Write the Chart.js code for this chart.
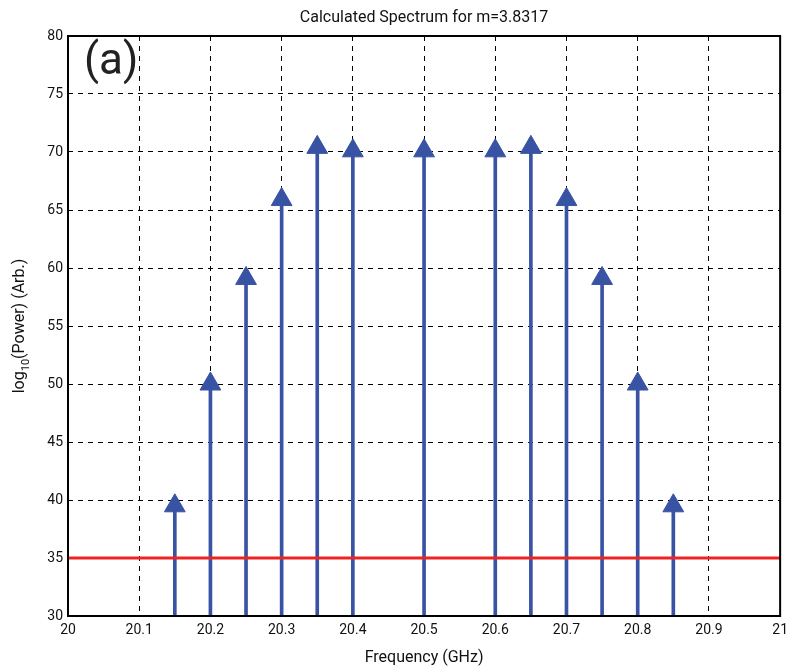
<!DOCTYPE html>
<html lang="en">
<head>
    <meta charset="UTF-8">
    <title>Calculated Spectrum</title>
    <script src="https://cdn.jsdelivr.net/npm/chart.js"></script>
    <style>
        html, body { margin: 0; padding: 0; background: #fff; overflow: hidden; }
        /* slightly wider than the window so the last x label runs off the edge */
        #wrap { width: 794px; height: 672px; position: relative; }
        canvas { display: block; }
    </style>
</head>
<body>
    <div id="wrap"><canvas id="myChart"></canvas></div>
    <script>
        // spectral lines (GHz) and their log power
        const freqs = [20.15, 20.2, 20.25, 20.3, 20.35, 20.4, 20.5, 20.6, 20.65, 20.7, 20.75, 20.8, 20.85];
        const power = [39.5, 50, 59.1, 65.9, 70.4, 70.1, 70.1, 70.1, 70.4, 65.9, 59.1, 50, 39.5];
        // noise floor drawn across the full band
        const floorFreqs = [20, 21];
        const floorLevel = [35, 35];
        const xTicks = [20, 20.1, 20.2, 20.3, 20.4, 20.5, 20.6, 20.7, 20.8, 20.9, 21];
        const yTicks = [30, 35, 40, 45, 50, 55, 60, 65, 70, 75, 80];

        const FONT = 'Roboto, "Noto Sans", sans-serif';
        const BLUE = '#3953a4';
        const RED = '#ee2424';

        const stems = freqs.map((f, i) => ({x: f, y: power[i]}));
        const floorLine = floorFreqs.map((f, i) => ({x: f, y: floorLevel[i]}));

        // box round the plot, title, y label with subscript, panel letter
        const frame = {
            id: 'frame',
            afterDatasetsDraw(chart) {
                const {ctx, chartArea: a} = chart;
                const midX = (a.left + a.right) / 2;
                const midY = (a.top + a.bottom) / 2;
                ctx.save();
                ctx.strokeStyle = '#000';
                ctx.lineWidth = 2;
                ctx.strokeRect(a.left, a.top, a.right - a.left, a.bottom - a.top);

                ctx.fillStyle = '#222';
                ctx.font = '44px ' + FONT;
                ctx.textBaseline = 'alphabetic';
                ctx.textAlign = 'left';
                ctx.fillText('(a)', a.left + 16, a.top + 38);

                ctx.fillStyle = '#111';
                ctx.font = '16px ' + FONT;
                ctx.textAlign = 'center';
                ctx.fillText('Calculated Spectrum for m=3.8317', midX, 22);

                // rotated axis title: log, subscript 10, rest
                const big = '16px ' + FONT;
                const small = '11px ' + FONT;
                const p1 = 'log', p2 = '10', p3 = '(Power) (Arb.)';
                ctx.font = big;
                const w1 = ctx.measureText(p1).width;
                const w3 = ctx.measureText(p3).width;
                ctx.font = small;
                const w2 = ctx.measureText(p2).width;
                const total = w1 + w2 + w3;
                ctx.translate(24, midY);
                ctx.rotate(-Math.PI / 2);
                ctx.textAlign = 'left';
                let x0 = -total / 2;
                ctx.font = big;
                ctx.fillText(p1, x0, 0);
                ctx.font = small;
                ctx.fillText(p2, x0 + w1, 5);
                ctx.font = big;
                ctx.fillText(p3, x0 + w1 + w2, 0);
                ctx.restore();
            }
        };

        const config = {
            data: {
                datasets: [
                    {
                        type: 'line',
                        data: floorLine,
                        borderColor: RED,
                        borderWidth: 3,
                        pointRadius: 0,
                        order: 0
                    },
                    {
                        type: 'scatter',
                        data: stems,
                        pointStyle: 'triangle',
                        pointRadius: 12,
                        pointHoverRadius: 12,
                        backgroundColor: BLUE,
                        borderColor: BLUE,
                        borderWidth: 1,
                        order: 1
                    },
                    {
                        type: 'bar',
                        data: stems,
                        backgroundColor: BLUE,
                        barThickness: 3,
                        order: 2
                    }
                ]
            },
            options: {
                responsive: true,
                maintainAspectRatio: false,
                animation: false,
                layout: { padding: { left: 0, right: 6, top: 36, bottom: 0 } },
                plugins: {
                    legend: { display: false },
                    tooltip: { enabled: false }
                },
                scales: {
                    x: {
                        type: 'linear',
                        min: 20,
                        max: 21,
                        offset: false,
                        afterBuildTicks: (s) => { s.ticks = xTicks.map(v => ({value: v})); },
                        afterFit: (s) => { s.height = 56; },
                        ticks: {
                            color: '#111',
                            font: { family: FONT, size: 14 },
                            padding: 6,
                            maxRotation: 0,
                            callback: (v) => String(+v.toFixed(1))
                        },
                        grid: { color: '#000', lineWidth: 1, drawTicks: false, offset: false },
                        border: { display: false, dash: [5, 5] },
                        title: {
                            display: true,
                            text: 'Frequency (GHz)',
                            color: '#111',
                            font: { family: FONT, size: 16 },
                            padding: { top: 6 }
                        }
                    },
                    y: {
                        type: 'linear',
                        min: 30,
                        max: 80,
                        afterBuildTicks: (s) => { s.ticks = yTicks.map(v => ({value: v})); },
                        afterFit: (s) => { s.width = 68; },
                        ticks: {
                            color: '#111',
                            font: { family: FONT, size: 14 },
                            padding: 5
                        },
                        grid: { color: '#000', lineWidth: 1, drawTicks: false },
                        border: { display: false, dash: [5, 5] }
                    }
                }
            },
            plugins: [frame]
        };

        window.onload = function() {
            const ctx = document.getElementById('myChart').getContext('2d');
            new Chart(ctx, config);
        };
    </script>
</body>
</html>
